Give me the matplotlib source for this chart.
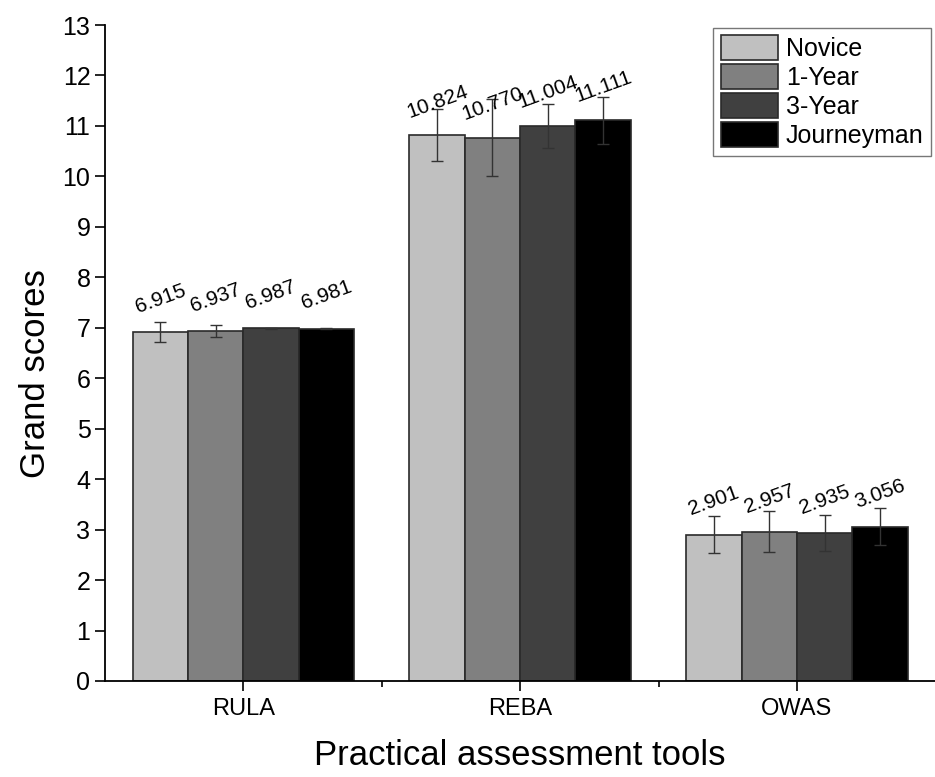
import matplotlib
matplotlib.use("Agg")
import matplotlib.pyplot as plt
import numpy as np

plt.rcParams['font.family'] = ['Liberation Sans', 'DejaVu Sans']

tools = ["RULA", "REBA", "OWAS"]
groups = ["Novice", "1-Year", "3-Year", "Journeyman"]
colors = ["#c0c0c0", "#808080", "#404040", "#000000"]

novice = [6.915, 10.824, 2.901]
one_year = [6.937, 10.770, 2.957]
three_year = [6.987, 11.004, 2.935]
journeyman = [6.981, 11.111, 3.056]

novice_sd = [0.19, 0.51, 0.36]
one_year_sd = [0.125, 0.77, 0.41]
three_year_sd = [0.01, 0.44, 0.36]
journeyman_sd = [0.005, 0.47, 0.37]

means = [novice, one_year, three_year, journeyman]
sds = [novice_sd, one_year_sd, three_year_sd, journeyman_sd]

fig = plt.figure(figsize=(9.35, 7.77), dpi=100)
ax = fig.add_axes([0.1123, 0.1236, 0.888, 0.8442])

x = np.arange(len(tools))
w = 0.2
for i in range(len(groups)):
    pos = x + (i - 1.5) * w
    ax.bar(pos, means[i], width=w, color=colors[i], edgecolor="#2a2a2a",
           linewidth=1.2, label=groups[i], zorder=2)
    ax.errorbar(pos, means[i], yerr=sds[i], fmt="none", ecolor="#333333",
                elinewidth=1, capsize=4, capthick=1, zorder=3)
    for px, v in zip(pos, means[i]):
        ax.annotate("%.3f" % v, (px, v), xytext=(0, 24), textcoords="offset points",
                    ha="center", va="center", rotation=20, fontsize=15)

ax.set_xlim(-0.5, 2.5)
ax.set_ylim(0, 13)
ax.set_yticks(range(0, 14))
ax.set_xticks(x)
ax.set_xticklabels(tools)
ax.set_xticks([0.5, 1.5], minor=True)
ax.tick_params(axis="both", which="major", direction="out", length=7, width=1.2,
               labelsize=17)
ax.tick_params(axis="y", labelsize=18)
ax.tick_params(axis="x", pad=5)
ax.tick_params(axis="x", which="minor", direction="out", length=4, width=1.2)
ax.spines["top"].set_visible(False)
ax.spines["right"].set_visible(False)
ax.spines["left"].set_linewidth(1.3)
ax.spines["bottom"].set_linewidth(1.3)

ax.set_xlabel("Practical assessment tools", fontsize=25, labelpad=14)
ax.set_ylabel("Grand scores", fontsize=25)
ax.yaxis.set_label_coords(-0.064, 0.468)

leg = ax.legend(loc="upper right", bbox_to_anchor=(0.998, 1.0), fontsize=18,
                frameon=True, fancybox=False, edgecolor="#555555",
                handlelength=2.3, handleheight=1.15, handletextpad=0.3,
                labelspacing=0.13, borderpad=0.3, borderaxespad=0.1)
leg.get_frame().set_linewidth(1)

fig.savefig("out.png", dpi=100)
